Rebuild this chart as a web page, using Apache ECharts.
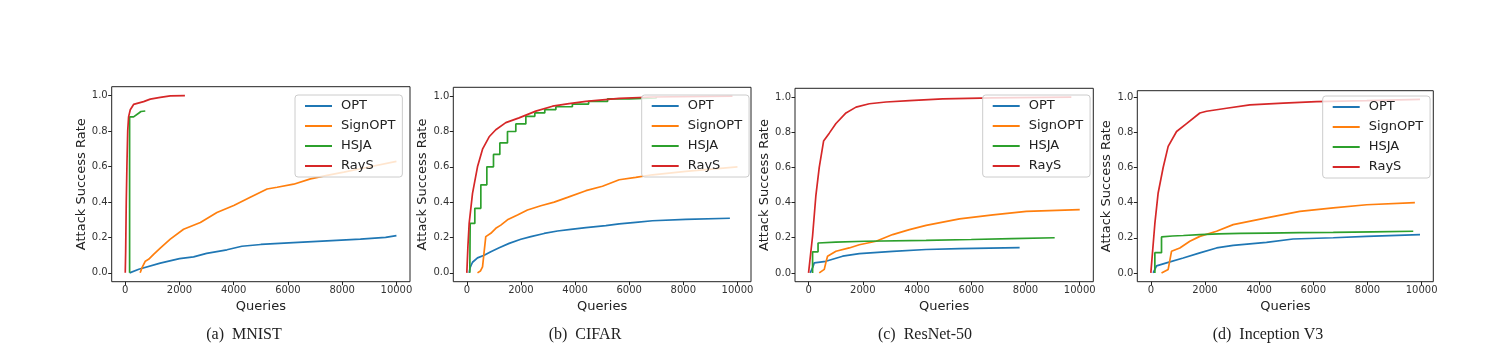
<!DOCTYPE html>
<html>
<head>
<meta charset="utf-8">
<script src="https://cdn.jsdelivr.net/npm/echarts@6/dist/echarts.min.js"></script>
<style>html,body{margin:0;padding:0;background:#fff;}#c{width:1509px;height:363px;}</style>
</head>
<body>
<div id="c"></div>
<script>
// ---- data ----
const seriesNames = ['OPT', 'SignOPT', 'HSJA', 'RayS'];
const captions = ['(a)  MNIST', '(b)  CIFAR', '(c)  ResNet-50', '(d)  Inception V3'];
const xTicks = [0, 2000, 4000, 6000, 8000, 10000];
const yTicks = [0, 0.2, 0.4, 0.6, 0.8, 1.0];

// MNIST
const mnistOPT = [[160,0],[500,0.02],[1290,0.055],[2000,0.08],[2520,0.09],[3000,0.11],[3750,0.13],[4300,0.15],[5000,0.16],[6200,0.17],[7440,0.18],[8670,0.19],[9600,0.2],[10000,0.21]];
const mnistSignOPT = [[550,0],[620,0.03],[740,0.066],[860,0.076],[1045,0.104],[1290,0.14],[1660,0.19],[2150,0.246],[2770,0.284],[3380,0.34],[4000,0.38],[4610,0.426],[5230,0.473],[5600,0.483],[6210,0.5],[6830,0.53],[7440,0.55],[8060,0.568],[8670,0.587],[10000,0.629]];
const mnistHSJA = [[160,0],[160,0.88],[307,0.88],[369,0.89],[492,0.9],[578,0.91],[738,0.913]];
const mnistRayS = [[0,0],[15,0.12],[37,0.4],[61,0.6],[90,0.8],[123,0.88],[185,0.92],[307,0.95],[676,0.966],[923,0.98],[1290,0.99],[1660,0.998],[2200,1.0]];

// CIFAR
const cifarOPT = [[86,0],[120,0.03],[210,0.06],[394,0.085],[640,0.1],[886,0.12],[1195,0.142],[1564,0.167],[1995,0.19],[2365,0.205],[2857,0.223],[3350,0.237],[3842,0.246],[4400,0.256],[5135,0.267],[5630,0.277],[6240,0.286],[6860,0.295],[8090,0.303],[9720,0.309]];
const cifarSignOPT = [[394,0],[500,0.01],[580,0.034],[640,0.12],[700,0.205],[886,0.224],[1070,0.252],[1256,0.27],[1500,0.3],[1872,0.328],[2240,0.356],[2734,0.38],[3227,0.4],[3720,0.427],[4400,0.465],[5012,0.49],[5630,0.527],[6240,0.54],[6860,0.555],[8090,0.574],[10000,0.6]];
const cifarHSJA = [[110,0],[123,0.28],[295,0.365],[517,0.498],[739,0.6],[985,0.67],[1219,0.735],[1502,0.8],[1810,0.843],[2180,0.886],[2512,0.905],[2880,0.924],[3290,0.94],[3900,0.955],[4500,0.97],[5200,0.985],[6000,0.99],[7000,0.995]];
const cifarRayS = [[0,0],[40,0.15],[86,0.28],[210,0.45],[394,0.6],[580,0.7],[825,0.77],[1070,0.81],[1440,0.85],[1930,0.877],[2550,0.915],[3165,0.943],[3780,0.958],[4400,0.97],[5630,0.987],[6860,0.995],[9815,1.0]];

// ResNet-50
const resOPT = [[60,0],[150,0.03],[210,0.057],[640,0.066],[1256,0.095],[1872,0.11],[3100,0.123],[4335,0.133],[5566,0.138],[7783,0.144]];
const resSignOPT = [[394,0],[580,0.02],[640,0.06],[700,0.095],[1010,0.123],[1500,0.142],[1872,0.16],[2490,0.18],[3100,0.218],[3720,0.246],[4335,0.27],[5566,0.307],[6800,0.33],[8030,0.35],[10000,0.36]];
const resHSJA = [[148,0],[148,0.12],[350,0.12],[350,0.17],[1000,0.175],[2080,0.18],[4335,0.185],[6000,0.19],[7500,0.195],[9076,0.2]];
const resRayS = [[0,0],[148,0.21],[270,0.44],[394,0.6],[554,0.75],[764,0.795],[1010,0.85],[1380,0.91],[1750,0.943],[2240,0.962],[2857,0.972],[3720,0.98],[4950,0.99],[6800,0.995],[9690,1.0]];

// Inception V3
const incOPT = [[86,0],[210,0.04],[580,0.057],[1195,0.085],[1810,0.114],[2426,0.142],[3040,0.157],[4270,0.174],[5250,0.193],[6736,0.2],[7970,0.208],[9940,0.218]];
const incSignOPT = [[394,0],[640,0.02],[700,0.07],[763,0.123],[1070,0.142],[1440,0.18],[1810,0.208],[2426,0.237],[3040,0.275],[4270,0.313],[5500,0.35],[6736,0.37],[7970,0.388],[9750,0.4]];
const incHSJA = [[148,0],[148,0.115],[394,0.115],[394,0.205],[800,0.21],[1200,0.213],[1810,0.218],[2500,0.222],[3300,0.225],[4270,0.227],[5500,0.229],[6736,0.231],[8200,0.234],[9690,0.237]];
const incRayS = [[0,0],[148,0.28],[270,0.455],[455,0.6],[640,0.72],[950,0.805],[1318,0.85],[1810,0.91],[2057,0.92],[2796,0.937],[3657,0.956],[4890,0.966],[6120,0.975],[7970,0.98],[9940,0.988]];

const panels = [
  {OPT: mnistOPT, SignOPT: mnistSignOPT, HSJA: mnistHSJA, RayS: mnistRayS, xMax: 10500, yMax: 1.05, stepHSJA: false},
  {OPT: cifarOPT, SignOPT: cifarSignOPT, HSJA: cifarHSJA, RayS: cifarRayS, xMax: 10500, yMax: 1.05, stepHSJA: true},
  {OPT: resOPT, SignOPT: resSignOPT, HSJA: resHSJA, RayS: resRayS, xMax: 10500, yMax: 1.05, stepHSJA: false},
  {OPT: incOPT, SignOPT: incSignOPT, HSJA: incHSJA, RayS: incRayS, xMax: 10430, yMax: 1.037, stepHSJA: false}
];

// ---- layout ----
const colors = {OPT: '#1f77b4', SignOPT: '#ff7f0e', HSJA: '#2ca02c', RayS: '#d62728'};
const grids = [
  {left: 111.7, top: 86.7, width: 298.3, height: 195},
  {left: 453.3, top: 87.3, width: 297.7, height: 194.4},
  {left: 795, top: 88.3, width: 298.3, height: 193.4},
  {left: 1137.3, top: 90.7, width: 296, height: 191}
];
const legendPos = [{left: 295, top: 95}, {left: 641.7, top: 95}, {left: 982.7, top: 95}, {left: 1322.7, top: 96}];
const captionX = [244, 585, 925, 1268];
const FONT = 'DejaVu Sans';

const option = {
  animation: false,
  backgroundColor: '#fff',
  grid: grids.map(g => Object.assign({show: true, borderColor: '#222', borderWidth: 1, backgroundColor: 'transparent'}, g)),
  xAxis: panels.map((p, i) => ({
    type: 'value', gridIndex: i, min: -500, max: p.xMax,
    name: 'Queries', nameLocation: 'middle', nameGap: 16,
    nameTextStyle: {fontFamily: FONT, fontSize: 13, color: '#222'},
    axisLine: {show: false, onZero: false},
    axisTick: {show: true, length: 3.5, lineStyle: {color: '#222'}, customValues: xTicks},
    axisLabel: {fontFamily: FONT, fontSize: 10, color: '#333', margin: 4, customValues: xTicks,
      formatter: v => String(Math.round(v))},
    splitLine: {show: false}
  })),
  yAxis: panels.map((p, i) => ({
    type: 'value', gridIndex: i, min: -0.05, max: p.yMax,
    name: 'Attack Success Rate', nameLocation: 'middle', nameGap: 22.5,
    nameTextStyle: {fontFamily: FONT, fontSize: 13, color: '#222'},
    axisLine: {show: false, onZero: false},
    axisTick: {show: true, length: 3.5, lineStyle: {color: '#222'}, customValues: yTicks},
    axisLabel: {fontFamily: FONT, fontSize: 10, color: '#333', margin: 4, customValues: yTicks,
      formatter: v => v.toFixed(1)},
    splitLine: {show: false}
  })),
  legend: legendPos.map(l => ({
    left: l.left, top: l.top, orient: 'vertical',
    data: seriesNames, icon: 'rect', itemWidth: 27, itemHeight: 2, itemGap: 6,
    padding: [4, 7, 4, 10],
    backgroundColor: 'rgba(255,255,255,0.8)', borderColor: '#ccc', borderWidth: 1, borderRadius: 3,
    textStyle: {fontFamily: FONT, fontSize: 13, color: '#222', lineHeight: 14, padding: [0, 0, 0, 4]},
    selectedMode: false
  })),
  series: [],
  graphic: captions.map((t, i) => ({
    type: 'text', x: captionX[i], y: 335,
    style: {text: t, fill: '#222', font: '16px "Liberation Serif"', textAlign: 'center', textVerticalAlign: 'middle'}
  }))
};

panels.forEach((p, i) => {
  seriesNames.forEach(n => {
    option.series.push({
      type: 'line', name: n, xAxisIndex: i, yAxisIndex: i, data: p[n],
      showSymbol: false, symbol: 'none', step: (n === 'HSJA' && p.stepHSJA) ? 'end' : false,
      lineStyle: {color: colors[n], width: 1.7}, itemStyle: {color: colors[n]}, z: 2
    });
  });
});

const chart = echarts.init(document.getElementById('c'), null, {renderer: 'canvas'});
chart.setOption(option);
</script>
</body>
</html>
